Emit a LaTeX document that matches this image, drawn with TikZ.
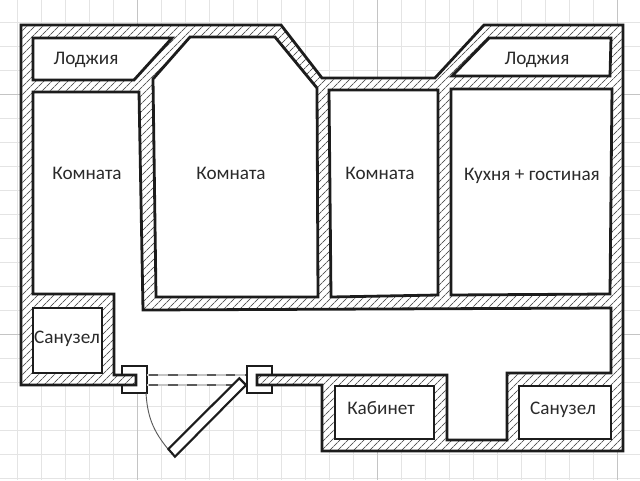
\documentclass[tikz,border=0pt]{standalone}
\usepackage{fontspec}
\setmainfont{Carlito}
\usetikzlibrary{patterns.meta}

\definecolor{gridminor}{HTML}{E4E4E4}
\definecolor{gridmajor}{HTML}{C4C4C4}
\definecolor{wallink}{HTML}{1C1C1C}
\definecolor{hatchink}{HTML}{5A5A5A}
\definecolor{labelink}{HTML}{2A2A2A}

\tikzset{
  gridline/.style={gridminor, line width=0.8pt},
  gridbold/.style={gridmajor, line width=0.9pt},
  wall/.style={draw=wallink, line width=2.1pt, line join=miter,
    preaction={fill=white},
    pattern={Lines[angle=45,distance=4pt,line width=0.7pt]}, pattern color=hatchink},
  room/.style={draw=wallink, fill=white, line width=2.1pt, line join=miter},
  jamb/.style={draw=wallink, fill=white, line width=1.5pt},
  leaf/.style={draw=wallink, fill=white, line width=1.6pt},
  swing/.style={draw=hatchink, line width=0.7pt},
  sill/.style={draw=gridmajor, line width=1.2pt},
  silldash/.style={draw=hatchink, line width=1.2pt, dash pattern=on 7pt off 7.4pt},
  roomlabel/.style={text=labelink, font=\fontsize{14.4pt}{16pt}\selectfont, inner sep=0pt,
    text height=9pt, text depth=3pt},
}

\begin{document}
\begin{tikzpicture}[x=0.75pt, y=-0.75pt]
  \useasboundingbox[fill=white] (0,0) rectangle (640,480);

  % grid
  \foreach \gx in {17.5,41.5,...,617.5} \draw[gridline] (\gx,0) -- (\gx,480);
  \foreach \gy in {22.5,46.5,...,478.5} \draw[gridline] (0,\gy) -- (640,\gy);
  \foreach \gx in {137.5,377.5,617.5} \draw[gridbold] (\gx,0) -- (\gx,480);
  \foreach \gy in {94.5,334.5} \draw[gridbold] (0,\gy) -- (640,\gy);

  % hall
  \fill[white] (33,92) -- (139,92) -- (143,310) -- (611,308) -- (611,373) -- (507,373)
    -- (507,440) -- (447,440) -- (447,375) -- (257,375) -- (257,385) -- (136,385)
    -- (136,375) -- (114,375) -- (114,294) -- (33,294) -- cycle;

  % door frames
  \draw[jamb] (122,366) rectangle (146.5,393);
  \draw[jamb] (247,366) rectangle (271.5,393);

  % walls
  \path[wall] (21,25) -- (281,25) -- (322,78) -- (435,78) -- (484,25) -- (623,25)
    -- (623,451) -- (322,451) -- (322,385) -- (257,385) -- (257,375) -- (447,375)
    -- (447,440) -- (507,440) -- (507,373) -- (611,373) -- (611,308) -- (143,310)
    -- (139,92) -- (33,92) -- (33,294) -- (114,294) -- (114,375) -- (136,375)
    -- (136,385) -- (21,385) -- cycle;

  % rooms
  \draw[room] (33,38) -- (172,38) -- (134,80) -- (33,80) -- cycle;
  \draw[room] (190,37) -- (275,37) -- (317,88) -- (318,297) -- (156,297) -- (153,79) -- cycle;
  \draw[room] (329,90) -- (438,90) -- (438,295) -- (331,297) -- cycle;
  \draw[room] (451,89) -- (612,89) -- (610,294) -- (451,295) -- cycle;
  \draw[room] (489,38) -- (611,38) -- (610,76) -- (452,76) -- cycle;
  \draw[room] (33,308) -- (102,308) -- (102,373) -- (33,373) -- cycle;
  \draw[room] (335,386) -- (434,386) -- (434,439) -- (335,439) -- cycle;
  \draw[room] (519,386) -- (611,386) -- (611,439) -- (519,439) -- cycle;

  % door
  \draw[sill] (147,375) -- (246,375);
  \draw[sill] (147,385) -- (246,385);
  \draw[silldash] (149,375) -- (246,375);
  \draw[silldash] (149,385) -- (246,385);
  \coordinate (swingA) at (146,393);
  \coordinate (swingB) at (168,449);
  \draw[swing] (swingA) to[bend right=18] (swingB);
  \draw[leaf] (239.3,378.3) -- (246,385) -- (175,456.7) -- (168.3,449) -- cycle;

  % labels
  \node[roomlabel] (loggiaL) at (86,60) {Лоджия};
  \node[roomlabel] (roomA) at (87,175) {Комната};
  \node[roomlabel] (roomB) at (231,175) {Комната};
  \node[roomlabel] (roomC) at (380,175) {Комната};
  \node[roomlabel] (kitchen) at (532,176) {Кухня + гостиная};
  \node[roomlabel] (loggiaR) at (537,60) {Лоджия};
  \node[roomlabel] (bathL) at (67,339) {Санузел};
  \node[roomlabel] (study) at (381,410) {Кабинет};
  \node[roomlabel] (bathR) at (563,410) {Санузел};
\end{tikzpicture}
\end{document}
